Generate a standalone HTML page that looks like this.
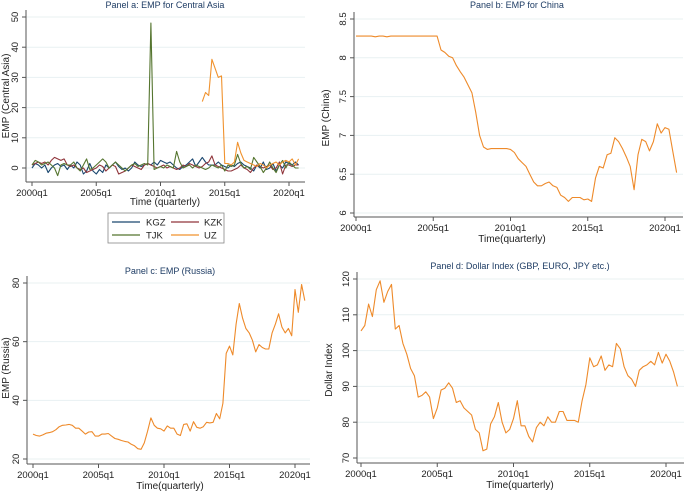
<!DOCTYPE html>
<html><head><meta charset="utf-8">
<style>
body{margin:0;background:#fff;}
svg{display:block;font-family:"Liberation Sans",Arial,sans-serif;}
</style></head>
<body>
<svg id="chart" width="685" height="493" viewBox="0 0 685 493"></svg>
<script>
// ---- data (quarterly, 2000q1 .. 2020q4 => t = 0..83) ----
const xTicks = ["2000q1","2005q1","2010q1","2015q1","2020q1"];
const xTickT = [0,20,40,60,80];

const kgz = [0,1.5,1,0,1,-1.5,0,1,1.5,0.5,1,-0.5,1,0,2,1,-2,-1,1.5,-1,-2,-0.5,-1.5,1,0,1,2,0.5,-0.5,0,-1,0,2,1,0.5,1,1.5,1,2,1,2.5,2,1.5,2,1,0,-0.5,0.5,1,2,3,0.5,2,3.5,2,1,1,1,2,1,0.5,0,1,0.5,1.5,2,1,0.5,0,-1,1,0,2,-0.5,0,1.5,-1,1,0,2,1.5,1,2,1];
const kzk = [1,1.5,2,1.5,2,1,2.5,3.5,3,2.5,3,1,0.5,1,0,-0.5,0,-1.5,-1,-0.5,0,1,0.5,-1,0,1,0.5,-2,-1.5,-1,0,1,0.5,0,-0.5,1,1.5,1,0.5,0,0.5,1,0,0.5,0,-0.5,0,1,0.5,1.5,1,0.5,0,0.5,1.5,2,4,1,0.5,0,-0.5,-1,-1,-0.5,0,1,0,-0.5,-1.5,0,1,0.5,0,0.5,1,-0.5,0,2,-2,1,1,0.5,1,1];
const tjk = [1,2.5,2,1,1.5,2,1,0,-2.5,1,1.5,1,1,2,0,-1,1,3,-0.5,0,1,2,3,2,0,1,2,1,0,-1,0,1,1.5,0.5,1,1.5,1,48,-0.5,0,0.5,0,1,0.5,0,5.5,2,0,0.5,1,0,1,0.5,0,-0.5,0,1,0.5,0,1,-1,1,0.5,1,4.5,1.5,0,0.5,-0.5,3.5,2,0.5,-1.5,0,2,0,-1.5,1,2.5,0,2,1,0,0];
const uzStart = 53;
const uz = [22,25,24,36,33,30,30.5,1.5,1.5,1,2,8.5,5,2.5,2,1.5,1,0.5,1.5,1,0,1,1.5,2,1,2,2.5,2,3,1,3];

const china = [8.28,8.28,8.28,8.28,8.28,8.27,8.28,8.28,8.27,8.28,8.28,8.28,8.28,8.28,8.28,8.28,8.28,8.28,8.28,8.28,8.28,8.28,
 8.1,8.07,8.02,8.0,7.9,7.82,7.75,7.65,7.55,7.3,7.0,6.85,6.82,6.83,6.83,6.83,6.83,6.83,6.82,6.78,6.7,6.65,6.6,6.5,6.4,6.35,6.35,6.38,6.4,6.35,6.33,6.23,6.2,6.15,6.2,6.2,6.2,6.17,6.18,6.15,
 6.45,6.6,6.58,6.75,6.77,6.97,6.92,6.83,6.72,6.6,6.3,6.75,6.95,6.92,6.8,6.92,7.15,7.03,7.1,7.08,6.8,6.52];

const russia = [28.5,28,27.8,28.2,28.8,29,29.3,30,31,31.5,31.6,31.8,31.5,30.5,30.5,29.5,28.5,29.2,29.3,27.8,27.8,28.5,28.5,28.7,27.8,27,26.7,26.3,26,25.8,25,24.5,23.5,23.3,25.5,29.5,34,31.5,30.5,30.3,
 29.5,31.3,30.5,30.5,28.5,28,31.8,32,29.5,32.7,30.8,30.5,31,32.5,32.3,32.5,35.5,33.7,39,56,
 58.5,55.5,66,73,68,64.5,63,60.5,56.5,59,58,57.5,57.5,63,66,69.5,65,63,64.5,62,77.8,70,79.5,74];

const dollar = [105.5,107,113,109.5,117,119.5,113.5,116.5,118.5,106,107,102,99,95,93,87,87.5,88.5,87,81,84,89,89.5,91,89.5,85.5,86,84,83,82,78,77,72,72.5,79.5,81.5,85.5,80,77,78,
 81,86,79,79,76,74.5,78.5,80,79,81.5,80,80,83,83,80.5,80.5,80.5,80,86,90.5,98,95.5,96,98.5,94.5,96,95.5,102,100.5,95.5,93,92,90,94.5,95.5,96,97,96,99.5,96.5,99,97,94,90];

const yTicksA = [0,10,20,30,40,50];
const yTicksB = [6,6.5,7,7.5,8,8.5];
const yTicksC = [20,40,60,80];
const yTicksD = [70,80,90,100,110,120];

// ---- drawing ----
const NS = "http://www.w3.org/2000/svg";
const svg = document.getElementById('chart');
function mk(tag, attrs, parent){
  const e = document.createElementNS(NS, tag);
  for (const k in attrs) e.setAttribute(k, attrs[k]);
  (parent||svg).appendChild(e);
  return e;
}
const GRID="#e8f1f2", AX="#555", TXT="#222", TITLE="#1e3c64", ORANGE="#ee8a2a";

function panel(p){
  const g = mk('g', {});
  
  
  const xs = t => p.x0 + (p.x80 - p.x0) * t / 80;
  const ys = v => p.yA + (p.yB - p.yA) * (v - p.vA) / (p.vB - p.vA);
  p.xs = xs; p.ys = ys;
  // gridlines
  p.yTicks.forEach(v=>{
    const l = mk('line',{x1:p.ax, x2:p.axR, y1:ys(v), y2:ys(v), stroke:GRID, 'stroke-width':1}, g);
    
    
  });
  // axes
  const ya = mk('line',{x1:p.ax,x2:p.ax,y1:p.axTop,y2:p.axY,stroke:AX,'stroke-width':1}, g);
  
  
  const xa = mk('line',{x1:p.ax,x2:p.axR,y1:p.axY,y2:p.axY,stroke:AX,'stroke-width':1}, g);
  
  
  // y ticks
  p.yTicks.forEach(v=>{
    mk('line',{x1:p.ax-4,x2:p.ax,y1:ys(v),y2:ys(v),stroke:AX}, g);
    const tx = p.ax-8, ty = ys(v);
    const t = mk('text',{x:tx,y:ty,'font-size':9.5,fill:TXT,'text-anchor':'middle',transform:`rotate(-90 ${tx} ${ty})`}, g);
    t.textContent = String(v);
    
    
  });
  // x ticks
  xTicks.forEach((lab,i)=>{
    const x = xs(xTickT[i]);
    mk('line',{x1:x,x2:x,y1:p.axY,y2:p.axY+4,stroke:AX}, g);
    const t = mk('text',{x:x,y:p.axY+14,'font-size':9.5,fill:TXT,'text-anchor':'middle'}, g);
    t.textContent = lab;
    
    
  });
  const tt = mk('text',{x:p.titleX,y:p.titleY,'font-size':9,fill:TITLE,'text-anchor':'middle'}, g);
  tt.textContent = p.title;
  
  
  const xt = mk('text',{x:p.xtX,y:p.xtY,'font-size':10,fill:TXT,'text-anchor':'middle'}, g);
  xt.textContent = p.xtitle;
  
  
  const yt = mk('text',{x:p.ytX,y:p.ytY,'font-size':10,fill:TXT,'text-anchor':'middle',transform:`rotate(-90 ${p.ytX} ${p.ytY})`}, g);
  yt.textContent = p.ytitle;
  
  
  p.g = g;
  return p;
}
function series(p, vals, start, color, name){
  const pts = vals.map((v,i)=>p.xs(start+i).toFixed(1)+','+p.ys(v).toFixed(1)).join(' ');
  const l = mk('polyline',{points:pts,fill:'none',stroke:color,'stroke-width':1.1,'stroke-linejoin':'round'}, p.g);
  
  
}

const pa = panel({name:'panel-a-central-asia', x0:32, x80:289, vA:0, yA:168, vB:50, yB:17, ax:26, axR:305, axTop:10, axY:182,
  yTicks:yTicksA, title:'Panel a: EMP for Central Asia', titleX:165, titleY:8, xtitle:'Time (quarterly)', xtX:165, xtY:205, ytitle:'EMP (Central Asia)', ytX:9, ytY:96});
series(pa, kgz, 0, '#1a476f', 'kgz-line');
series(pa, kzk, 0, '#90353b', 'kzk-line');
series(pa, tjk, 0, '#55752f', 'tjk-line');
series(pa, uz, uzStart, '#f0922e', 'uz-line');

// legend
const lg = mk('g',{});


mk('rect',{x:108,y:213,width:116,height:30,fill:'#fff',stroke:'#888','stroke-width':0.8}, lg);
const legNames=['KGZ','KZK','TJK','UZ'], legCols=['#1a476f','#90353b','#55752f','#f0922e'];
legNames.forEach((n,i)=>{
  const cx = i%2===0 ? 112 : 171, cy = i<2 ? 222 : 235;
  mk('line',{x1:cx,x2:cx+28,y1:cy,y2:cy,stroke:legCols[i],'stroke-width':1.2}, lg);
  const t = mk('text',{x: i%2===0 ? cx+34 : cx+33, y:cy+3.5,'font-size':9.5,fill:TXT}, lg);
  t.textContent = n;
  
  
});

const pb = panel({name:'panel-b-china', x0:356, x80:665, vA:6, yA:213, vB:8.5, yB:19, ax:354, axR:683, axTop:12, axY:217,
  yTicks:yTicksB, title:'Panel b: EMP for China', titleX:517, titleY:8, xtitle:'Time(quarterly)', xtX:512, xtY:242, ytitle:'EMP (China)', ytX:329, ytY:118});
series(pb, china, 0, ORANGE, 'china-line');

const pc = panel({name:'panel-c-russia', x0:33, x80:295, vA:20, yA:459, vB:80, yB:283, ax:27, axR:310, axTop:276, axY:464,
  yTicks:yTicksC, title:'Panel c: EMP (Russia)', titleX:170, titleY:274, xtitle:'Time(quarterly)', xtX:170, xtY:489, ytitle:'EMP (Russia)', ytX:9, ytY:368});
series(pc, russia, 0, ORANGE, 'russia-line');

const pd = panel({name:'panel-d-dollar-index', x0:361, x80:666, vA:70, yA:458, vB:120, yB:279, ax:357, axR:684, axTop:272, axY:463,
  yTicks:yTicksD, title:'Panel d: Dollar Index (GBP, EURO, JPY etc.)', titleX:520, titleY:269, xtitle:'Time(quarterly)', xtX:520, xtY:488, ytitle:'Dollar Index', ytX:332, ytY:370});
series(pd, dollar, 0, ORANGE, 'dollar-index-line');
</script>
</body></html>
